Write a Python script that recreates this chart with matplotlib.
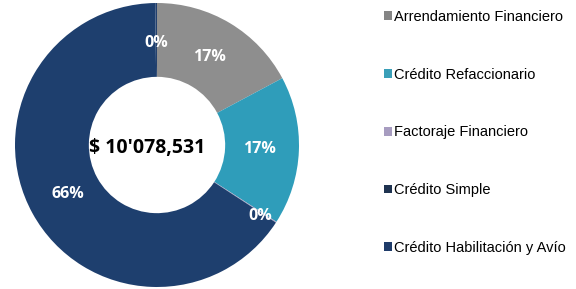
import matplotlib
matplotlib.use("Agg")
import matplotlib.pyplot as plt
from matplotlib.patches import Patch

categories = ["Arrendamiento Financiero", "Crédito Refaccionario", "Factoraje Financiero",
              "Crédito Simple", "Crédito Habilitación y Avío"]
values = [17.2, 16.9, 0.1, 65.6, 0.2]
colors = ["#8E8E8E", "#2F9DBA", "#A89CC2", "#1E3F6E", "#22406E"]
legend_colors = ["#858585", "#3A9FB8", "#A79CC0", "#1F3350", "#1F3C6A"]
center_text = "$ 10'078,531"

fig = plt.figure(figsize=(5.76, 2.89), dpi=100)
ax = fig.add_axes([15/576, 2/289, 284/576, 284/289])
wedges, texts, autotexts = ax.pie(
    values, colors=colors, startangle=90, counterclock=False,
    radius=1.0, wedgeprops=dict(width=0.52, edgecolor="none"),
    autopct=lambda p: f"{p:.0f}%", pctdistance=0.72,
    textprops=dict(color="white", fontsize=11.5, fontweight="bold", family="Open Sans"))
# push the small-slice label near the teal edge a bit outward
x, y = autotexts[2].get_position()
autotexts[2].set_position((x * 1.2, y * 1.28))
ax.set_xlim(-1, 1)
ax.set_ylim(-1, 1)
ax.set_aspect("equal")
ax.axis("off")

ax.text(-0.07, -0.02, center_text, ha="center", va="center", fontsize=14,
        fontweight="bold", family="Open Sans", color="black")

handles = [Patch(facecolor=c, edgecolor="none") for c in legend_colors]
fig.legend(handles, categories, loc="upper left", bbox_to_anchor=(381/576, 1 - 7/289),
           frameon=False, prop=dict(family="Liberation Sans", size=10.5),
           handlelength=0.55, handleheight=0.55, handletextpad=0.15,
           labelspacing=3.0, borderaxespad=0, borderpad=0.2)

fig.savefig("out.png", dpi=100)
